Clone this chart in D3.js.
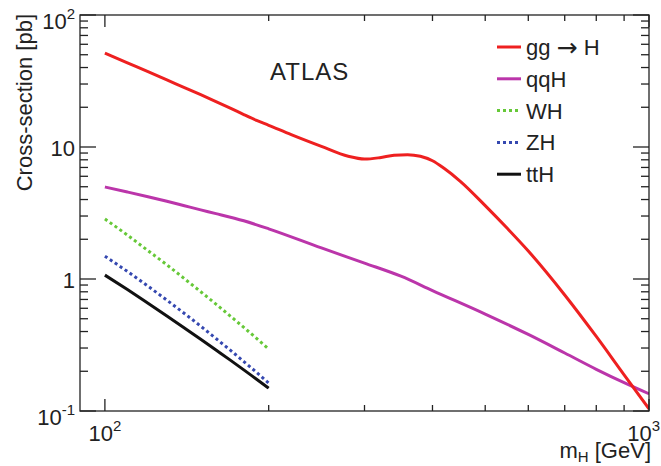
<!DOCTYPE html>
<html>
<head>
<meta charset="utf-8">
<script src="https://cdn.jsdelivr.net/npm/d3@7"></script>
<style>
  html, body { margin: 0; padding: 0; background: #fff; }
  svg { display: block; font-family: "Liberation Sans", Arial, Helvetica, sans-serif; }
</style>
</head>
<body>
<div id="chart"></div>
<script>
/* ── Data ──────────────────────────────────────────────────── */
const ggMass = [100, 110, 120, 130, 140, 150, 160, 170, 180, 190, 200, 220, 250, 280, 300, 320, 340, 360, 380, 400, 420, 450, 500, 550, 600, 700, 800, 900, 1000];
const ggXsec = [51.5, 43.4, 37.2, 32.2, 28.2, 24.9, 22.1, 19.7, 17.6, 15.9, 14.6, 12.4, 10.1, 8.5, 8.1, 8.3, 8.65, 8.75, 8.5, 7.87, 6.9, 5.5, 3.6, 2.4, 1.63, 0.757, 0.367, 0.188, 0.104];

const qqMass = [100, 110, 120, 130, 140, 150, 160, 180, 200, 250, 300, 350, 400, 500, 600, 700, 800, 900, 1000];
const qqXsec = [4.98, 4.56, 4.2, 3.88, 3.59, 3.34, 3.13, 2.76, 2.40, 1.72, 1.32, 1.05, 0.817, 0.542, 0.380, 0.275, 0.207, 0.164, 0.135];

const vhMass = [100, 110, 120, 130, 140, 150, 160, 170, 180, 190, 200];
const whXsec = [2.85, 2.15, 1.64, 1.28, 1.005, 0.801, 0.645, 0.524, 0.430, 0.355, 0.295];
const zhXsec = [1.49, 1.14, 0.882, 0.691, 0.548, 0.439, 0.354, 0.289, 0.237, 0.196, 0.163];
const tthXsec = [1.07, 0.831, 0.655, 0.525, 0.426, 0.350, 0.290, 0.243, 0.205, 0.174, 0.149];

const seriesNames = ["gg \u2192 H", "qqH", "WH", "ZH", "ttH"];
const seriesColors = ["#ee2020", "#bb35aa", "#66c838", "#3548b0", "#111111"];
const seriesDash = [null, null, "3,3", "3,3", null];

const yTickLabels = [
  { v: 100, base: "10", sup: "2" },
  { v: 10, base: "10", sup: "" },
  { v: 1, base: "1", sup: "" },
  { v: 0.1, base: "10", sup: "-1" },
];
const xTickLabels = [
  { v: 100, base: "10", sup: "2" },
  { v: 1000, base: "10", sup: "3" },
];

/* ── Layout ───────────────────────────────────────────────── */
const W = 661, H = 466;
const frame = { left: 80, right: 649, top: 15, bottom: 411 };
const ink = "#222";

const svg = d3.select("#chart").append("svg")
  .attr("width", W).attr("height", H).attr("viewBox", `0 0 ${W} ${H}`);

const x = d3.scaleLog().domain([90, 1000]).range([frame.left, frame.right]);
const y = d3.scaleLog().domain([0.1, 100]).range([frame.bottom, frame.top]);

const isMajor = v => Math.abs(Math.log10(v) - Math.round(Math.log10(v))) < 1e-9;

/* ── Curves ───────────────────────────────────────────────── */
const series = [
  { m: ggMass, s: ggXsec },
  { m: qqMass, s: qqXsec },
  { m: vhMass, s: whXsec },
  { m: vhMass, s: zhXsec },
  { m: vhMass, s: tthXsec },
].map((d, i) => ({
  name: seriesNames[i], color: seriesColors[i], dash: seriesDash[i],
  pts: d.m.map((m, j) => [m, d.s[j]]),
}));

const line = d3.line().x(d => x(d[0])).y(d => y(d[1])).curve(d3.curveMonotoneX);

svg.append("defs").append("clipPath").attr("id", "plot-clip")
  .append("rect")
  .attr("x", frame.left).attr("y", frame.top)
  .attr("width", frame.right - frame.left).attr("height", frame.bottom - frame.top);

const curves = svg.append("g").attr("clip-path", "url(#plot-clip)");
// back to front so the gg curve ends up on top
curves.selectAll("path").data(series.slice().reverse()).join("path")
  .attr("d", d => line(d.pts))
  .attr("fill", "none")
  .attr("stroke", d => d.color)
  .attr("stroke-width", 3)
  .attr("stroke-dasharray", d => d.dash);

/* ── Frame and ticks ──────────────────────────────────────── */
const axes = svg.append("g").attr("stroke", ink).attr("stroke-width", 1.3);

const yT = y.ticks();
axes.selectAll(".yl").data(yT).join("line").attr("class", "yl")
  .attr("x1", frame.left).attr("x2", d => frame.left + (isMajor(d) ? 16 : 8))
  .attr("y1", d => y(d)).attr("y2", d => y(d));
axes.selectAll(".yr").data(yT).join("line").attr("class", "yr")
  .attr("x1", frame.right).attr("x2", d => frame.right - (isMajor(d) ? 16 : 8))
  .attr("y1", d => y(d)).attr("y2", d => y(d));

const xT = x.ticks().filter(v => v >= 100);
axes.selectAll(".xb").data(xT).join("line").attr("class", "xb")
  .attr("x1", d => x(d)).attr("x2", d => x(d))
  .attr("y1", frame.bottom).attr("y2", d => frame.bottom - (isMajor(d) ? 12 : 6));
axes.selectAll(".xt").data(xT).join("line").attr("class", "xt")
  .attr("x1", d => x(d)).attr("x2", d => x(d))
  .attr("y1", frame.top).attr("y2", d => frame.top + (isMajor(d) ? 12 : 6));

axes.append("rect")
  .attr("x", frame.left).attr("y", frame.top)
  .attr("width", frame.right - frame.left).attr("height", frame.bottom - frame.top)
  .attr("fill", "none");

/* ── Tick labels ──────────────────────────────────────────── */
function powerLabel(sel) {
  sel.append("tspan").text(d => d.base);
  sel.append("tspan").attr("font-size", 15).attr("dy", -10).text(d => d.sup);
}

svg.selectAll(".ylab").data(yTickLabels).join("text").attr("class", "ylab")
  .attr("x", 75)
  .attr("y", d => y(d.v) + (d.sup ? 14 : 9))
  .attr("text-anchor", "end").attr("font-size", 22).attr("fill", ink)
  .call(powerLabel);

const xLabs = svg.selectAll(".xlab").data(xTickLabels).join("text").attr("class", "xlab")
  .attr("x", d => x(d.v))
  .attr("y", 441)
  .attr("text-anchor", "middle").attr("font-size", 22).attr("fill", ink)
  .call(powerLabel);
// keep the last label inside the picture
xLabs.each(function () {
  const b = this.getBBox();
  if (b.x + b.width > W - 1) d3.select(this).attr("x", +this.getAttribute("x") - (b.x + b.width - W + 1));
});

/* ── Axis titles ──────────────────────────────────────────── */
svg.append("text")
  .attr("transform", "translate(32,14) rotate(-90)")
  .attr("text-anchor", "end").attr("font-size", 22).attr("fill", ink)
  .text("Cross-section [pb]");

const xTitle = svg.append("text")
  .attr("x", 651).attr("y", 458)
  .attr("text-anchor", "end").attr("font-size", 22).attr("fill", ink);
xTitle.append("tspan").text("m");
xTitle.append("tspan").attr("font-size", 15).attr("dy", 4).text("H");
xTitle.append("tspan").attr("dy", -4).text(" [GeV]");

svg.append("text")
  .attr("x", 270).attr("y", 80)
  .attr("font-size", 24).attr("fill", ink).attr("letter-spacing", 1)
  .text("ATLAS");

/* ── Legend ───────────────────────────────────────────────── */
const legend = svg.append("g");
const rows = legend.selectAll("g").data(series).join("g")
  .attr("transform", (d, i) => `translate(497,${47 + i * 31.8})`);
rows.append("line")
  .attr("x1", 0).attr("x2", 24).attr("y1", 0).attr("y2", 0)
  .attr("stroke", d => d.color).attr("stroke-width", 3)
  .attr("stroke-dasharray", d => d.dash);
rows.append("text")
  .attr("x", 29).attr("y", 8)
  .attr("font-size", 22).attr("fill", ink)
  .each(function (d) {
    // arrow glyph taken from DejaVu, which draws a longer arrow
    const t = d3.select(this);
    d.name.split(/(\u2192)/).forEach(part => {
      const ts = t.append("tspan").text(part);
      if (part === "\u2192") ts.attr("font-family", "DejaVu Sans").attr("font-size", 25).attr("dy", 1);
      else if (part.startsWith(" H")) ts.attr("dy", -1);
    });
  });
</script>
</body>
</html>
